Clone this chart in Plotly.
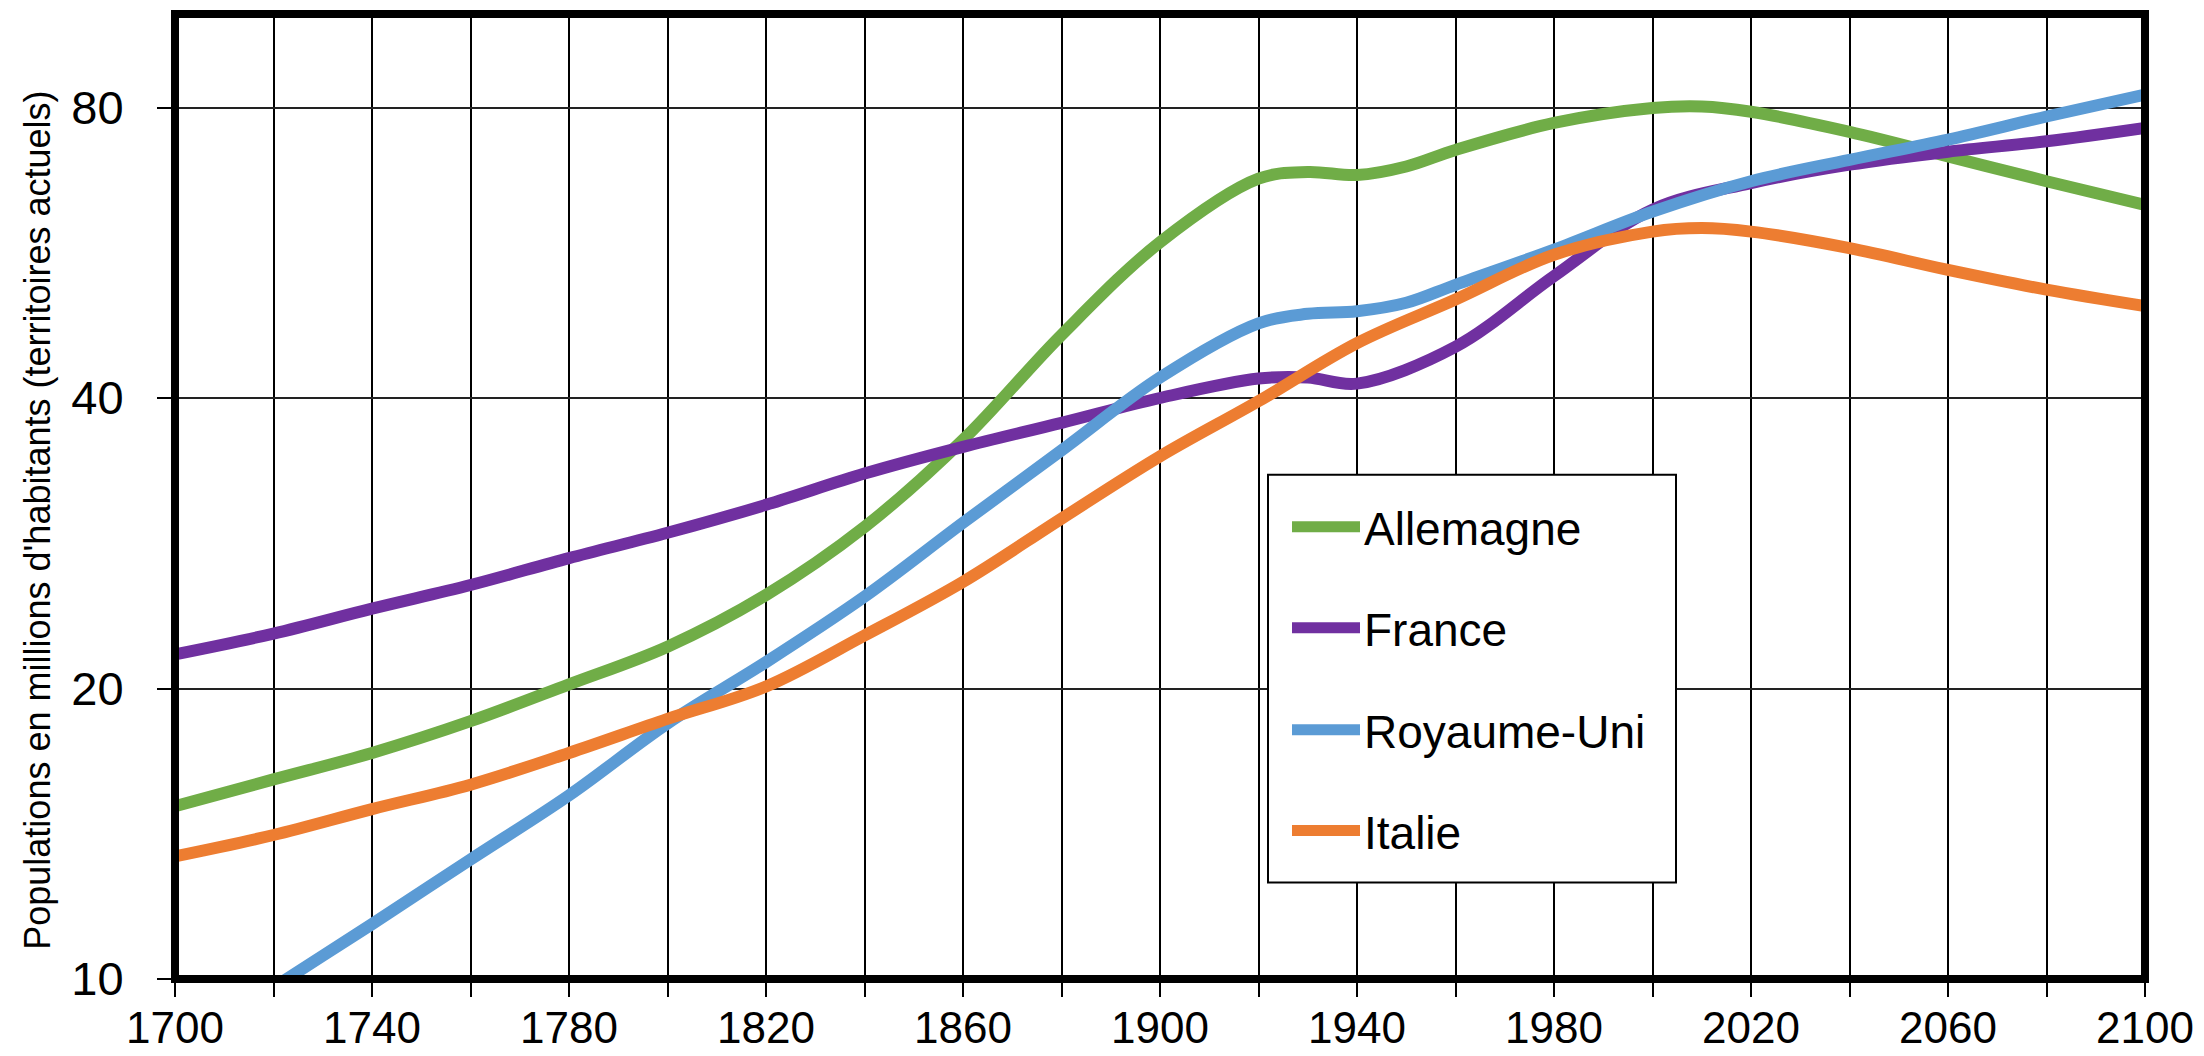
import plotly.graph_objects as go

# ---------------- data (millions) ----------------
years_de = [1700, 1720, 1740, 1760, 1780, 1800, 1820, 1840, 1860, 1880, 1900, 1920,
            1930, 1940, 1950, 1960, 1980, 2000, 2010, 2020, 2040, 2060, 2080, 2100]
allemagne = [15.1, 16.1, 17.15, 18.5, 20.2, 22.1, 25.0, 29.4, 36.2, 46.5, 58.0, 67.5,
             68.6, 68.1, 69.5, 72.3, 77.1, 79.9, 80.2, 79.2, 75.5, 71.2, 67.1, 63.4]

years_fr = [1700, 1720, 1740, 1760, 1780, 1800, 1820, 1840, 1860, 1880, 1900, 1920, 1930,
            1940, 1960, 1980, 2000, 2020, 2040, 2060, 2080, 2100]
france = [21.7, 22.8, 24.2, 25.6, 27.3, 29.0, 31.0, 33.4, 35.6, 37.7, 40.0, 41.9, 42.0,
          41.4, 45.2, 53.5, 62.7, 66.8, 69.8, 72.0, 73.8, 76.2]

years_uk = [1700, 1720, 1740, 1760, 1780, 1800, 1820, 1840, 1860, 1880, 1900, 1920,
            1930, 1940, 1950, 1960, 1980, 2000, 2020, 2040, 2060, 2080, 2100]
royaume_uni = [8.4, 9.8, 11.4, 13.3, 15.5, 18.4, 21.3, 24.9, 29.7, 35.3, 42.0, 47.8,
               48.9, 49.2, 50.2, 52.4, 57.0, 62.4, 67.1, 70.6, 74.1, 78.3, 82.5]

years_it = [1700, 1720, 1740, 1760, 1780, 1800, 1820, 1840, 1860, 1880, 1900, 1920, 1940,
            1960, 1980, 2000, 2010, 2020, 2040, 2060, 2080, 2100]
italie = [13.4, 14.1, 15.0, 15.9, 17.15, 18.6, 20.1, 22.7, 25.8, 30.0, 34.8, 39.7, 45.6,
          50.6, 56.3, 59.5, 60.0, 59.5, 57.2, 54.3, 51.8, 49.8]

series_names = ["Allemagne", "France", "Royaume-Uni", "Italie"]
series_colors = ["#70AD47", "#7030A0", "#5B9BD5", "#ED7D31"]

x_tick_vals = list(range(1700, 2101, 20))
x_tick_text = [str(v) if (v - 1700) % 40 == 0 else "" for v in x_tick_vals]
y_tick_vals = [10, 20, 40, 80]
y_tick_text = ["10", "20", "40", "80"]

y_title = "Populations en millions d'habitants (territoires actuels)"

# ---------------- figure ----------------
W, H = 2204, 1056
L, R, T, B = 175, 2145, 14, 979.5
FONT = "Liberation Sans, Arial, sans-serif"


def px_x(p):
    return (p - L) / (R - L)


def px_y(p):
    return (B - p) / (B - T)


fig = go.Figure()
data = [(years_de, allemagne), (years_fr, france), (years_uk, royaume_uni), (years_it, italie)]
for (xs, ys), name, col in zip(data, series_names, series_colors):
    fig.add_trace(go.Scatter(x=xs, y=ys, mode="lines", name=name,
                             line=dict(color=col, width=12, shape="spline", smoothing=1.0),
                             showlegend=False))

fig.update_layout(
    width=W, height=H,
    margin=dict(l=L, r=W - R, t=T, b=H - B, pad=0, autoexpand=False),
    paper_bgcolor="white", plot_bgcolor="white",
    font=dict(family=FONT, color="black"),
    showlegend=False,
)
fig.update_xaxes(
    range=[1700, 2100], tickmode="array", tickvals=x_tick_vals, ticktext=x_tick_text,
    showgrid=True, gridcolor="black", gridwidth=1.5,
    ticks="outside", ticklen=17, tickwidth=1.5, tickcolor="black",
    tickfont=dict(size=44, family=FONT), ticklabelstandoff=-7,
    showline=False, zeroline=False, automargin=False,
)
fig.update_yaxes(
    type="log", range=[1, 2], tickmode="array", tickvals=y_tick_vals, ticktext=y_tick_text,
    showgrid=True, gridcolor="#222", gridwidth=2.2,
    ticks="outside", ticklen=17, tickwidth=1.5, tickcolor="black",
    tickfont=dict(size=47, family=FONT), ticklabelstandoff=24,
    showline=False, zeroline=False, automargin=False,
)

shapes = [dict(type="rect", xref="paper", yref="paper", x0=0, x1=1, y0=0, y1=1,
               line=dict(color="black", width=8), fillcolor="rgba(0,0,0,0)", layer="above")]

# legend box (drawn manually to reproduce the long line samples)
lx0, lx1, ly0, ly1 = 1268, 1676, 475, 883
shapes.append(dict(type="rect", xref="paper", yref="paper",
                   x0=px_x(lx0), x1=px_x(lx1), y0=px_y(ly1), y1=px_y(ly0),
                   line=dict(color="black", width=2), fillcolor="white", layer="above"))
annotations = []
item_y = [527, 628, 730, 831]
for name, col, iy in zip(series_names, series_colors, item_y):
    shapes.append(dict(type="line", xref="paper", yref="paper",
                       x0=px_x(1292), x1=px_x(1360), y0=px_y(iy), y1=px_y(iy),
                       line=dict(color=col, width=11), layer="above"))
    annotations.append(dict(xref="paper", yref="paper", x=px_x(1362), y=px_y(iy + 2),
                            xanchor="left", yanchor="middle", text=name, showarrow=False,
                            font=dict(size=46, family=FONT, color="black")))

annotations.append(dict(xref="paper", yref="paper", x=px_x(38), y=px_y(521),
                        xanchor="center", yanchor="middle", text=y_title, textangle=-90,
                        showarrow=False, font=dict(size=36, family=FONT, color="black")))

fig.update_layout(shapes=shapes, annotations=annotations)

fig.write_html("out.html", config={"displayModeBar": False},
               post_script="document.body.style.margin='0';document.body.style.overflow='hidden';")
